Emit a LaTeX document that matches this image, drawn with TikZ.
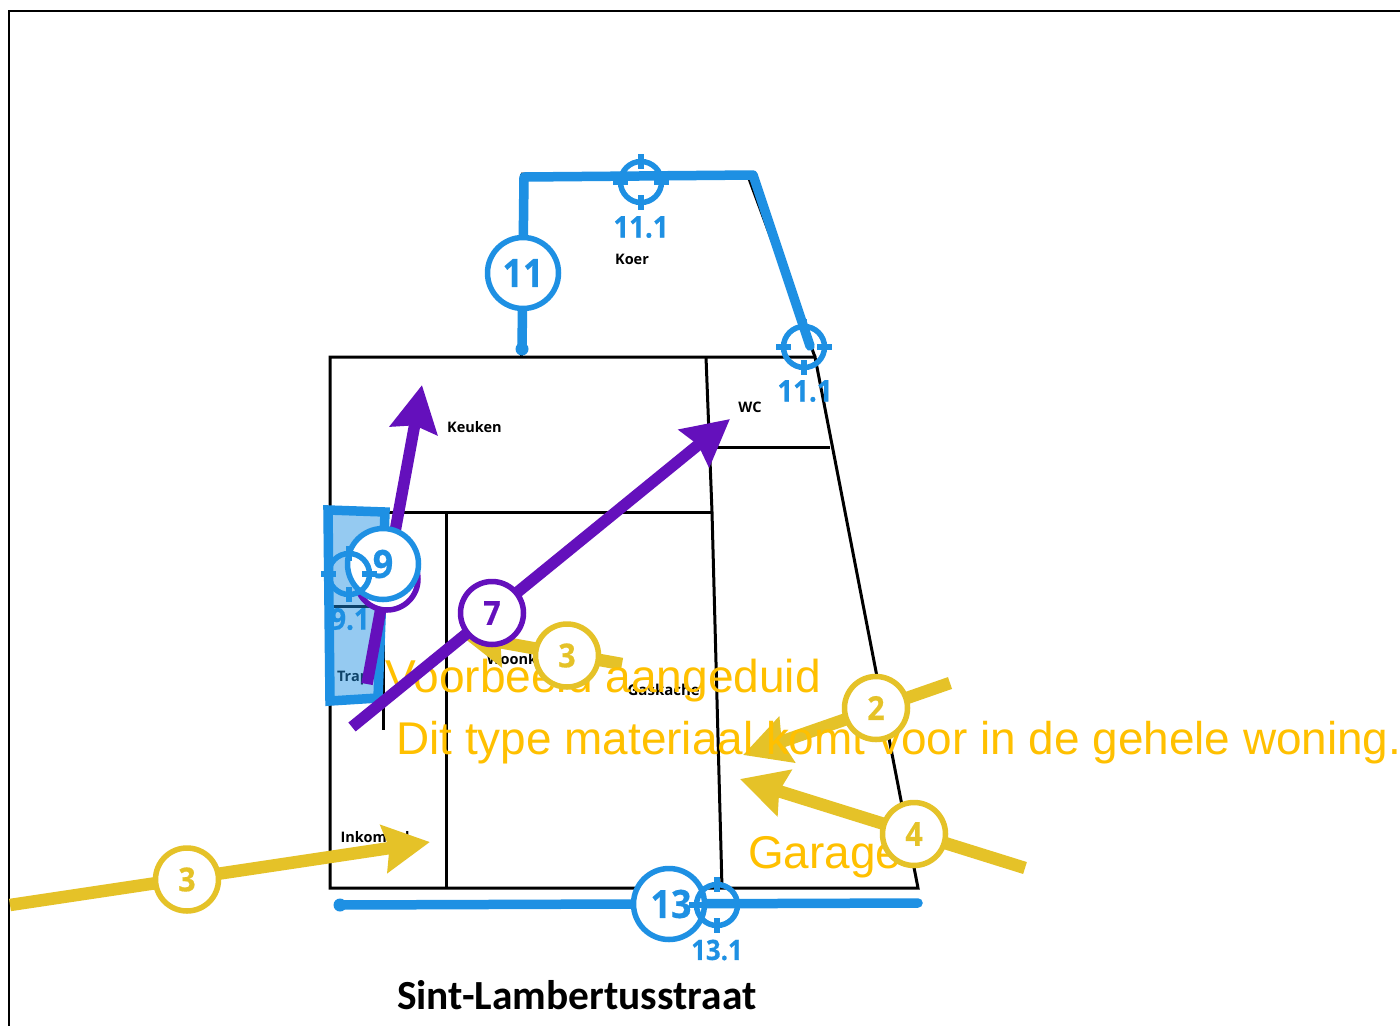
\documentclass[tikz,border=0pt]{standalone}
\usepackage{fontspec}
\setmainfont{Open Sans}
\newfontfamily\numf{Open Sans}[FakeStretch=0.92,BoldFeatures={FakeBold=0.5}]
\newfontfamily\lib{Liberation Sans}
\newfontfamily\car{Carlito}
\usetikzlibrary{arrows.meta}
\definecolor{bl}{HTML}{1E90E3}
\definecolor{ye}{HTML}{E5C228}
\definecolor{pu}{HTML}{6410BC}
\definecolor{or}{HTML}{FFC000}
\definecolor{lb}{HTML}{1E90E3}
\newcommand{\fs}[1]{\fontsize{#1pt}{#1pt}\selectfont}
\tikzset{
 x=1pt,y=-1pt,
 wall/.style={draw=black,line width=3pt,line join=miter},
 room/.style={font=\fs{14.5}\bfseries,text=black,inner sep=0pt},
 ylw/.style={draw=ye,line width=12.5pt,-{Stealth[length=46pt,width=47pt,inset=5pt]}},
 pur/.style={draw=pu,line width=11.5pt,-{Stealth[length=46pt,width=47pt,inset=5pt]}},
 blu/.style={draw=bl,line width=9.5pt,line join=round,line cap=round},
 numc/.style={circle,fill=white,draw=#1,text=#1,line width=5.5pt,minimum size=63pt,inner sep=0pt,font=\numf\fs{33}\bfseries},
 numb/.style={circle,fill=white,draw=bl,text=bl,line width=5.5pt,minimum size=71pt,inner sep=0pt,font=\numf\fs{39}\bfseries},
 tick/.style={draw=bl,line width=5.5pt},
 ring/.style={circle,draw=bl,line width=5.5pt,minimum size=41pt,inner sep=0pt},
 sub/.style={text=bl,font=\numf\fs{30}\bfseries,inner sep=0pt},
 ortx/.style={text=or,font=\lib\fs{45.9},inner sep=0pt,anchor=base west},
 cross/.pic={
  \draw[tick] (-28,0)--(-13,0) (13,0)--(28,0) (0,-28)--(0,-13) (0,13)--(0,28);
 }
}
\begin{document}
\begin{tikzpicture}
\useasboundingbox (0,0) rectangle (1400,1026);
\fill[white] (0,0) rectangle (1400,1026);
% frame
\draw[black,line width=2.6pt] (1400,11) -- (9,11) -- (9,1026);
% plan
\coordinate (nw) at (330,357); \coordinate (ne) at (815,357);
\coordinate (se) at (918,888); \coordinate (sw) at (330,888);
\coordinate (kw) at (521,174); \coordinate (ke) at (748,176);
\draw[wall] (nw)--(ne)--(se)--(sw)--cycle;
\draw[wall] (kw)--(nw-|kw);
\draw[wall] (kw)--(ke)--(ne);
\draw[wall] (706,357)--(712,512)--(722,888);
\draw[wall] (712,447)--(830,447);
\draw[wall] (330,512)--(712,512);
\draw[wall] (446,512)--(446,888);
\draw[wall] (383,512)--(383,730);
\draw[wall] (330,606)--(383,606);
% room labels
\node[room] (koer) at (632,259) {Koer};
\node[room] (keuken) at (474.5,427) {Keuken};
\node[room] (wc) at (750,407) {WC};
\node[room] (inkom) at (375,837) {Inkomhal};
\node[room] (woon) at (531,659) {Woonkamer};
\node[room,font=\fs{15}\bfseries] (gas) at (666,690) {Gaskachel};
\node[room] (trap) at (353,678) {Trap};
% trap highlight
\coordinate (t1) at (328,510); \coordinate (t2) at (385,512);
\coordinate (t3) at (378,698); \coordinate (t4) at (330,701);
\fill[lb,fill opacity=.47] (t1)--(t2)--(t3)--(t4)--cycle;
\draw[bl,line width=9.5pt,line join=miter] (t1)--(t2)--(t3)--(t4)--cycle;
% yellow arrows
\coordinate (a3s) at (10,905); \coordinate (a3e) at (430,842);
\coordinate (b3s) at (622,664); \coordinate (b3e) at (460,635);
\coordinate (a2s) at (950,683); \coordinate (a2e) at (743,755);
\coordinate (a4s) at (1025,868); \coordinate (a4e) at (740,779);
\draw[ylw] (a3s)--(a3e);
\draw[ylw] (b3s)--(b3e);
\draw[ylw] (a2s)--(a2e);
\draw[ylw] (a4s)--(a4e);
% orange text
\node[ortx,font=\lib\fs{46.1}] (t-a) at (385,692) {Voorbeeld aangeduid};
\node[ortx] (t-b) at (396,754) {Dit type materiaal komt voor in de gehele woning.};
\node[ortx] (t-c) at (748,868) {Garage};
% yellow circles
\node[numc=ye] (n3a) at (187,879.5) {3};
\node[numc=ye] (n3b) at (567,655.5) {3};
\node[numc=ye] (n2) at (876,708) {2};
\node[numc=ye] (n4) at (914,834) {4};
% purple arrows
\coordinate (p9s) at (367,684); \coordinate (p9e) at (422,385);
\coordinate (p7s) at (352,727); \coordinate (p7e) at (730,419);
\draw[pur] (p9s)--(p9e);
\draw[pur] (p7s)--(p7e);
\node[numc=pu,minimum size=62pt] (n9p) at (387,579) {};
\node[numc=pu] (n7) at (492,613) {7};
% blue polyline 11
\coordinate (b1) at (522,349); \coordinate (b2) at (524,177);
\coordinate (b3) at (753,175); \coordinate (b4) at (810,346);
\draw[blu] (b1)--(b2)--(b3)--(b4);
\fill[bl] (b1) circle (6.5);
\node[numb] (n11) at (523,273) {11};
% blue line 13
\coordinate (c1) at (340,905); \coordinate (c2) at (918,903);
\draw[blu] (c1)--(c2);
\fill[bl] (c1) circle (6.5);
\node[numb] (n13) at (669,904) {\hspace*{4pt}13};
% blue circle 9
\node[numb] (n9) at (383,564) {9};
% sighting rings
\node[ring] (r1) at (641,182) {}; \pic at (r1.center) {cross};
\node[ring] (r2) at (804,347) {}; \pic at (r2.center) {cross};
\node[ring] (r3) at (717,905) {}; \pic at (r3.center) {cross};
\node[ring] (r4) at (349,574) {}; \pic at (r4.center) {cross};
\node[sub] (s1) at (641,227) {11.1};
\node[sub] (s2) at (805,391) {11.1};
\node[sub,font=\numf\fs{28}\bfseries] (s3) at (717,950) {13.1};
\node[sub] (s4) at (350,619) {9.1};
\node[inner sep=0pt,anchor=base west,font=\car\fs{41.4}\bfseries] (street) at (397,1009) {Sint-Lambertusstraat};
\end{tikzpicture}
\end{document}
